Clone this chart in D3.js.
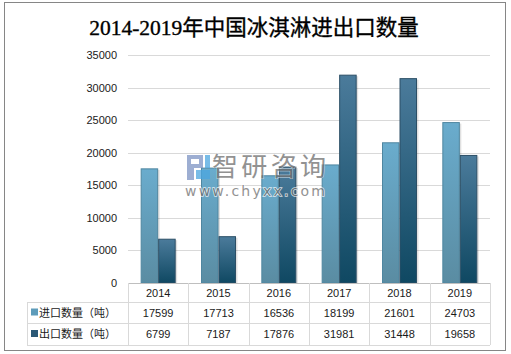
<!DOCTYPE html>
<html>
<head>
<meta charset="utf-8">
<script src="https://cdn.jsdelivr.net/npm/d3@7"></script>
<style>
  body { margin: 0; background: #fff; }
  svg { display: block; }
  text { font-family: "Liberation Sans", "Noto Sans CJK SC", sans-serif; }
</style>
</head>
<body>
<div id="chart"></div>
<script>
  // data
  const years = ["2014", "2015", "2016", "2017", "2018", "2019"];
  const imports = [17599, 17713, 16536, 18199, 21601, 24703];
  const exports = [6799, 7187, 17876, 31981, 31448, 19658];
  const seriesNames = ["进口数量（吨）", "出口数量（吨）"];
  const yTicks = [0, 5000, 10000, 15000, 20000, 25000, 30000, 35000];

  const width = 511, height = 354;
  const svg = d3.select("#chart").append("svg")
    .attr("width", width)
    .attr("height", height);

  const defs = svg.append("defs");
  const g1 = defs.append("linearGradient").attr("id", "gImp")
    .attr("x1", 0).attr("y1", 0).attr("x2", 0).attr("y2", 1);
  g1.append("stop").attr("offset", "0%").attr("stop-color", "#6aaccd");
  g1.append("stop").attr("offset", "100%").attr("stop-color", "#5a8ca2");
  const g2 = defs.append("linearGradient").attr("id", "gExp")
    .attr("x1", 0).attr("y1", 0).attr("x2", 0).attr("y2", 1);
  g2.append("stop").attr("offset", "0%").attr("stop-color", "#4b7b9b");
  g2.append("stop").attr("offset", "100%").attr("stop-color", "#0f4862");
  const fills = ["url(#gImp)", "url(#gExp)"];
  const strokes = ["#4f86a0", "#2c4f66"];
  const keyColors = ["#5e9cba", "#2b5875"];

  // outer frame
  svg.append("rect")
    .attr("x", 4.5).attr("y", 2.5)
    .attr("width", 501).attr("height", 348)
    .attr("fill", "#fff")
    .attr("stroke", "#868686");

  // title
  svg.append("text")
    .attr("x", 254).attr("y", 35)
    .attr("text-anchor", "middle")
    .style("font-family", "'Liberation Serif', 'Noto Sans CJK SC', serif")
    .style("font-size", "21.5px")
    .attr("fill", "#000")
    .attr("stroke", "#000").attr("stroke-width", 0.35)
    .text("2014-2019年中国冰淇淋进出口数量");

  const plotL = 128, plotR = 490, plotT = 55, plotB = 283;

  const x = d3.scaleBand().domain(years).range([plotL, plotR]);
  const xs = d3.scaleBand().domain([0, 1]).range([0, 35]);
  const y = d3.scaleLinear().domain([0, 35000]).range([plotB, plotT]);

  // gridlines
  svg.append("g").selectAll("line")
    .data(yTicks.slice(1))
    .join("line")
    .attr("x1", plotL).attr("x2", plotR)
    .attr("y1", d => Math.round(y(d)) + 0.5)
    .attr("y2", d => Math.round(y(d)) + 0.5)
    .attr("stroke", "#d9d9d9");

  // y axis labels
  const yAxis = d3.axisLeft(y).tickValues(yTicks).tickSize(0).tickPadding(0)
    .tickFormat(d3.format("d"));
  svg.append("g")
    .attr("transform", `translate(${plotL - 11},0)`)
    .call(yAxis)
    .call(g => g.select(".domain").remove())
    .call(g => g.selectAll("text")
      .style("font-size", "11px")
      .style("font-family", "'Liberation Sans', sans-serif")
      .attr("fill", "#1a1a1a"));

  // bars
  const data = [imports, exports];
  data.forEach((vals, s) => {
    // shadow
    svg.append("g").selectAll("rect")
      .data(vals)
      .join("rect")
      .attr("x", (d, i) => x(years[i]) + (x.bandwidth() - 35) / 2 + xs(s) + 1.5)
      .attr("y", d => y(d) + 1.5)
      .attr("width", xs.bandwidth())
      .attr("height", d => plotB - y(d) - 1.5)
      .attr("fill", "#000")
      .attr("opacity", 0.12);
    svg.append("g").selectAll("rect")
      .data(vals)
      .join("rect")
      .attr("x", (d, i) => x(years[i]) + (x.bandwidth() - 35) / 2 + xs(s) + 0.5)
      .attr("y", d => y(d) + 0.5)
      .attr("width", xs.bandwidth() - 1)
      .attr("height", d => plotB - y(d) - 0.5)
      .attr("fill", fills[s])
      .attr("stroke", strokes[s])
      .attr("stroke-width", 1);
  });

  // watermark
  const wm = svg.append("g").attr("opacity", 0.75);
  wm.append("path")
    .attr("d", "M187,155 h16 v13 h-9 v12 h-7 z M191,159 v5 h8 v-5 z")
    .attr("fill", "#7d93c4").attr("fill-rule", "evenodd");
  wm.append("rect").attr("x", 196).attr("y", 170).attr("width", 14).attr("height", 9).attr("fill", "#4ba6e0");
  wm.append("rect").attr("x", 205).attr("y", 155).attr("width", 5).attr("height", 13).attr("fill", "#4ba6e0");
  wm.append("text").attr("x", 212).attr("y", 176)
    .style("font-family", "'Noto Sans CJK SC', sans-serif")
    .style("font-size", "26px").attr("fill", "#6e6e6e")
    .attr("stroke", "#fff").attr("stroke-width", 0.8).attr("paint-order", "stroke")
    .attr("textLength", 114)
    .text("智研咨询");
  wm.append("text").attr("x", 185).attr("y", 196)
    .style("font-family", "'DejaVu Sans', sans-serif")
    .style("font-size", "14px").attr("fill", "#6e6e6e")
    .attr("stroke", "#fff").attr("stroke-width", 1.5).attr("paint-order", "stroke")
    .attr("textLength", 140)
    .text("www.chyxx.com");

  // data table
  const rowY = [283, 302, 323, 345];
  const tbl = svg.append("g").attr("stroke", "#d9d9d9").attr("shape-rendering", "crispEdges");
  tbl.append("line").attr("x1", plotL).attr("x2", plotR).attr("y1", rowY[0] + 0.5).attr("y2", rowY[0] + 0.5).attr("stroke", "#bfbfbf");
  rowY.slice(1).forEach(ry => {
    tbl.append("line").attr("x1", 27).attr("x2", plotR).attr("y1", ry + 0.5).attr("y2", ry + 0.5);
  });
  tbl.append("line").attr("x1", 27.5).attr("x2", 27.5).attr("y1", rowY[1]).attr("y2", rowY[3]);
  years.forEach(yr => {
    tbl.append("line").attr("x1", x(yr) + 0.5).attr("x2", x(yr) + 0.5).attr("y1", rowY[0]).attr("y2", rowY[3]);
  });
  tbl.append("line").attr("x1", plotR + 0.5).attr("x2", plotR + 0.5).attr("y1", rowY[0]).attr("y2", rowY[3]);

  svg.append("g").selectAll("text")
    .data(years)
    .join("text")
    .attr("x", d => x(d) + x.bandwidth() / 2)
    .attr("y", (rowY[0] + rowY[1]) / 2 + 4)
    .attr("text-anchor", "middle")
    .style("font-size", "11px")
    .attr("fill", "#1a1a1a")
    .text(d => d);

  data.forEach((vals, s) => {
    const cy = (rowY[s + 1] + rowY[s + 2]) / 2;
    svg.append("rect")
      .attr("x", 31).attr("y", cy - 4)
      .attr("width", 7).attr("height", 7)
      .attr("fill", keyColors[s]);
    svg.append("text")
      .attr("x", 39).attr("y", cy + 4)
      .style("font-family", "'Noto Sans CJK SC', sans-serif")
      .style("font-size", "11px")
      .attr("fill", "#1a1a1a")
      .text(seriesNames[s]);
    svg.append("g").selectAll("text")
      .data(vals)
      .join("text")
      .attr("x", (d, i) => x(years[i]) + x.bandwidth() / 2)
      .attr("y", cy + 4)
      .attr("text-anchor", "middle")
      .style("font-size", "11px")
      .attr("fill", "#1a1a1a")
      .text(d => d);
  });
</script>
</body>
</html>
